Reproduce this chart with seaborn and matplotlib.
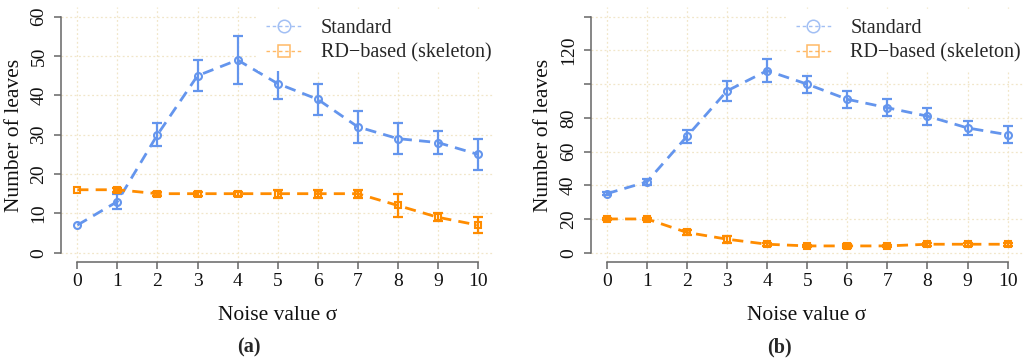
import matplotlib
matplotlib.use('Agg')
import matplotlib.pyplot as plt
from matplotlib.lines import Line2D
import numpy as np
import pandas as pd
import seaborn as sns

# Data
noise = [0, 1, 2, 3, 4, 5, 6, 7, 8, 9, 10]

std_a = [7, 13, 30, 45, 49, 43, 39, 32, 29, 28, 25]
std_a_err = [0, 2, 3, 4, 6, 4, 4, 4, 4, 3, 4]
rd_a = [16, 16, 15, 15, 15, 15, 15, 15, 12, 9, 7]
rd_a_err = [0, 0.5, 0.5, 0.5, 0.5, 1, 1, 1, 3, 1, 2]

std_b = [35, 42, 69, 96, 108, 100, 91, 86, 81, 74, 70]
std_b_err = [1, 2, 4, 6, 7, 5, 5, 5, 5, 4, 5]
rd_b = [20, 20, 12, 8, 5, 4, 4, 4, 5, 5, 5]
rd_b_err = [0.8, 0.8, 1.5, 2, 1, 0.8, 1, 0.8, 1, 0.8, 0.8]

series_names = ['Standard', 'RD\u2212based (skeleton)']
blue = '#6495ED'
orange = '#FF8C00'

sns.set_style('ticks')
plt.rcParams['font.family'] = ['Liberation Serif', 'DejaVu Serif']

fig = plt.figure(figsize=(10.24, 3.61), dpi=100)
W, H = 1024, 361


def make_axes(left_px, right_px):
    top_px, bot_px = 7.3, 262.1
    return fig.add_axes([left_px / W, 1 - bot_px / H, (right_px - left_px) / W, (bot_px - top_px) / H])


def draw_panel(ax, std, std_err, rd, rd_err, ymax, yticks, ylabels):
    df = pd.DataFrame({'noise': noise, 'std': std, 'rd': rd})
    for col, err, color, marker in [('std', std_err, blue, 'o'), ('rd', rd_err, orange, 's')]:
        sns.lineplot(data=df, x='noise', y=col, ax=ax, color=color, lw=2.0,
                     marker=marker, markersize=5, mfc='none', mec=color, mew=1.5,
                     zorder=3)
        ax.lines[-1].set_dashes((4, 2.6))
        e = np.array(err, dtype=float)
        m = e > 0
        ax.errorbar(np.array(noise)[m], np.array(df[col])[m], yerr=e[m], fmt='none',
                    ecolor=color, elinewidth=1.6, capsize=3.5, capthick=1.6, zorder=3)

    ax.set_xlim(-0.4, 10.4)
    pad = ymax * 0.04
    ax.set_ylim(-pad, ymax + pad)
    ax.set_xticks(noise)
    ax.set_yticks(yticks)
    ax.set_yticklabels(ylabels, rotation=90, va='center')
    ax.set_xlabel('')
    ax.set_ylabel('')
    ax.grid(True, color='#f1e6c9', linestyle=(0, (1.5, 2)), linewidth=0.9)
    ax.set_axisbelow(True)
    for s in ['top', 'right']:
        ax.spines[s].set_visible(False)
    for s in ['left', 'bottom']:
        ax.spines[s].set_color('#666666')
        ax.spines[s].set_linewidth(1.1)
    ax.spines['bottom'].set_bounds(0, 10)
    ax.spines['left'].set_bounds(0, ymax)
    ax.tick_params(axis='both', labelsize=14, length=5, width=1.1, color='#666666',
                   labelcolor='#111111')
    ax.tick_params(axis='x', pad=2.5)
    ax.tick_params(axis='y', pad=5)

    handles = [
        Line2D([], [], color=blue, lw=1.0, ls=(0, (2.5, 2)), marker='o', ms=9, mfc='none',
               mec=blue, mew=1.1, alpha=0.6),
        Line2D([], [], color=orange, lw=1.0, ls=(0, (2.5, 2)), marker='s', ms=8, mfc='none',
               mec=orange, mew=1.1, alpha=0.6),
    ]
    leg = ax.legend(handles, series_names, loc='upper left', bbox_to_anchor=(0.455, 0.985),
                    fontsize=14.5, frameon=True, facecolor='white', edgecolor='none',
                    framealpha=1, fancybox=False, borderpad=0.4, borderaxespad=0,
                    handlelength=1.75, handletextpad=0.95, labelspacing=0.25)
    leg.set_zorder(5)


ax_a = make_axes(61.3, 494.0)
draw_panel(ax_a, std_a, std_a_err, rd_a, rd_a_err, 60,
           [0, 10, 20, 30, 40, 50, 60], ['0', '10', '20', '30', '40', '50', '60'])

ax_b = make_axes(590.7, 1023.7)
draw_panel(ax_b, std_b, std_b_err, rd_b, rd_b_err, 140,
           [0, 20, 40, 60, 80, 100, 120, 140], ['0', '20', '40', '60', '80', '', '120', ''])

label_kw = dict(fontsize=15.5, color='#111111', ha='center', va='center')
fig.text(15 / W, 1 - 135 / H, 'Number of leaves', rotation=90, **label_kw)
fig.text(543 / W, 1 - 135 / H, 'Number of leaves', rotation=90, **label_kw)
fig.text(277.5 / W, 1 - 316 / H, 'Noise value \u03c3', **label_kw)
fig.text(807 / W, 1 - 316 / H, 'Noise value \u03c3', **label_kw)
fig.text(249 / W, 1 - 347 / H, '(a)', fontsize=14.5, fontweight='bold', ha='center', va='center')
fig.text(779 / W, 1 - 347 / H, '(b)', fontsize=14.5, fontweight='bold', ha='center', va='center')

fig.savefig('out.png', dpi=100, facecolor='white')
